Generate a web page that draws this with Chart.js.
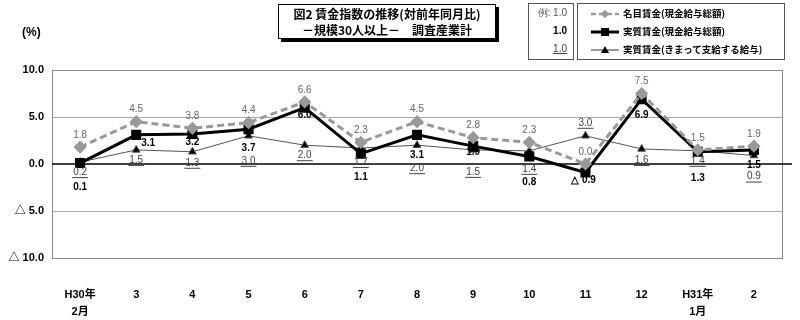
<!DOCTYPE html>
<html>
<head>
<meta charset="utf-8">
<script src="https://cdn.jsdelivr.net/npm/chart.js@4"></script>
<style>
  body { margin:0; background:#fff; font-family:'Liberation Sans','Noto Sans CJK JP',sans-serif; }
  #wrap { position:relative; width:800px; height:320px; }
  canvas { position:absolute; left:0; top:0; }
  .unit { position:absolute; left:22px; top:25px; font-size:12px; font-weight:bold; }
  .title { position:absolute; left:278px; top:4px; width:218px; height:35px; border:1px solid #000;
    box-shadow:3px 3px 0 #000; background:#fff; font-family:'Noto Sans CJK JP',sans-serif;
    font-weight:bold; font-size:12px; line-height:16px; text-align:center; padding-top:1px; box-sizing:border-box; }
  .lgbox { position:absolute; top:3px; height:55px; border:1px solid #555; background:#fff;
    font-family:'Noto Sans CJK JP',sans-serif; font-size:9.5px; font-weight:bold; }
  .row { height:18px; line-height:18px; white-space:nowrap; }
  .ex { text-align:right; padding-right:6px; font-weight:normal; font-size:10px;
    font-family:'Liberation Sans Narrow','Liberation Sans',sans-serif; }
  .row svg { vertical-align:middle; margin:0 4px 0 13px; }
</style>
</head>
<body>
<div id="wrap">
  <canvas id="c" width="800" height="320"></canvas>
  <div class="unit">(%)</div>
  <div class="title">図2 賃金指数の推移(対前年同月比)<br>－規模30人以上－　調査産業計</div>
  <div class="lgbox" style="left:528px;width:44px;">
    <div class="row ex" style="color:#555">例: 1.0</div>
    <div class="row ex" style="font-weight:bold">1.0</div>
    <div class="row ex" style="color:#444"><u>1.0</u></div>
  </div>
  <div class="lgbox" style="left:577px;width:206px;">
    <div class="row"><svg width="28" height="10"><line x1="0" y1="5" x2="28" y2="5" stroke="#999" stroke-width="2.5" stroke-dasharray="5,3"/><rect x="11" y="2" width="6" height="6" fill="#999" transform="rotate(45 14 5)"/></svg>名目賃金(現金給与総額)</div>
    <div class="row"><svg width="28" height="10"><line x1="0" y1="5" x2="28" y2="5" stroke="#000" stroke-width="3"/><rect x="10" y="1" width="8" height="8" fill="#000"/></svg>実質賃金(現金給与総額)</div>
    <div class="row"><svg width="28" height="10"><line x1="0" y1="5" x2="28" y2="5" stroke="#333" stroke-width="1"/><polygon points="14,1 18,8 10,8" fill="#000"/></svg>実質賃金(きまって支給する給与)</div>
  </div>
</div>
<script>
// 月ラベル
const MONTHS = [['H30年','2月'],'3','4','5','6','7','8','9','10','11','12',['H31年','1月'],'2'];

// 名目賃金(現金給与総額)
const NOMINAL = [1.8, 4.5, 3.8, 4.4, 6.6, 2.3, 4.5, 2.8, 2.3, 0.0, 7.5, 1.5, 1.9];
// 実質賃金(現金給与総額)
const REAL = [0.1, 3.1, 3.2, 3.7, 6.0, 1.1, 3.1, 1.9, 0.8, -0.9, 6.9, 1.3, 1.5];
// 実質賃金(きまって支給する給与)
const REAL_SCHED = [0.2, 1.5, 1.3, 3.0, 2.0, 1.7, 2.0, 1.5, 1.4, 3.0, 1.6, 1.4, 0.9];

const Y_TICKS = [10, 5, 0, -5, -10];

function fmt(v) {
  return v < 0 ? '△ ' + Math.abs(v).toFixed(1) : v.toFixed(1);
}

// ラベル位置の微調整 [dx, dy]
const LABEL_OFFSETS = [
  NOMINAL.map(() => [0, -12]),
  [[0,24],[12,8],[0,8],[0,19],[0,8],[0,24],[0,20],[0,6],[0,26],[-2,8],[0,16],[0,26],[0,15]],
  [[0,10],[0,10],[0,11],[0,25],[0,10],[0,14],[0,23],[0,22],[0,18],[0,-13],[0,11],[0,10],[0,21]]
];

const labelPlugin = {
  id: 'valueLabels',
  afterDatasetsDraw(chart) {
    const ctx = chart.ctx;
    ctx.save();
    ctx.textAlign = 'center';
    ctx.textBaseline = 'middle';
    chart.data.datasets.forEach((ds, di) => {
      const meta = chart.getDatasetMeta(di);
      meta.data.forEach((pt, i) => {
        const [dx, dy] = LABEL_OFFSETS[di][i];
        const x = pt.x + dx, y = pt.y + dy;
        const txt = fmt(ds.data[i]);
        if (di === 0) {
          ctx.font = '10px "Liberation Sans Narrow", "Liberation Sans", sans-serif';
          ctx.fillStyle = '#666';
        } else if (di === 1) {
          ctx.font = 'bold 10px "Liberation Sans Narrow", "Liberation Sans", sans-serif';
          ctx.fillStyle = '#000';
        } else {
          ctx.font = '10px "Liberation Sans Narrow", "Liberation Sans", sans-serif';
          ctx.fillStyle = '#444';
        }
        ctx.fillText(txt, x, y);
        if (di === 2) {
          const w = ctx.measureText(txt).width;
          ctx.strokeStyle = '#444';
          ctx.lineWidth = 1;
          ctx.beginPath();
          ctx.moveTo(x - w / 2 - 1, y + 5.5);
          ctx.lineTo(x + w / 2 + 1, y + 5.5);
          ctx.stroke();
        }
      });
    });
    ctx.restore();
  }
};

const framePlugin = {
  id: 'frame',
  beforeDatasetsDraw(chart) {
    const a = chart.chartArea, ctx = chart.ctx;
    ctx.save();
    ctx.strokeStyle = '#888';
    ctx.lineWidth = 1;
    ctx.strokeRect(a.left + 0.5, a.top + 0.5, a.right - a.left, a.bottom - a.top);
    // ゼロ線
    const y0 = chart.scales.y.getPixelForValue(0);
    ctx.strokeStyle = '#000';
    ctx.lineWidth = 1.5;
    ctx.beginPath();
    ctx.moveTo(a.left, y0);
    ctx.lineTo(a.right + 10, y0);
    ctx.stroke();
    ctx.restore();
  }
};

new Chart(document.getElementById('c'), {
  type: 'line',
  data: {
    labels: MONTHS,
    datasets: [
      {
        label: '名目賃金(現金給与総額)',
        data: NOMINAL,
        borderColor: '#999',
        backgroundColor: '#999',
        borderWidth: 3,
        borderDash: [7, 4],
        pointStyle: 'rectRot',
        pointRadius: 4.5,
        tension: 0
      },
      {
        label: '実質賃金(現金給与総額)',
        data: REAL,
        borderColor: '#000',
        backgroundColor: '#000',
        borderWidth: 3,
        pointStyle: 'rect',
        pointRadius: 5,
        tension: 0
      },
      {
        label: '実質賃金(きまって支給する給与)',
        data: REAL_SCHED,
        borderColor: '#555',
        backgroundColor: '#000',
        borderWidth: 1,
        pointStyle: 'triangle',
        pointRadius: 4.5,
        tension: 0
      }
    ]
  },
  options: {
    responsive: false,
    animation: false,
    layout: { padding: { top: 70, right: 18, left: 0, bottom: 0 } },
    plugins: {
      legend: { display: false },
      tooltip: { enabled: false }
    },
    scales: {
      x: {
        offset: true,
        grid: { display: false },
        border: { display: false },
        afterFit(s) { s.height = 62; },
        ticks: {
          color: '#000',
          padding: 21,
          maxRotation: 0,
          autoSkip: false,
          font: { size: 11, weight: 'bold', lineHeight: 1.5, family: '"Liberation Sans", "Noto Sans CJK JP", sans-serif' }
        }
      },
      y: {
        min: -10,
        max: 10,
        afterFit(s) { s.width = 52; },
        afterBuildTicks(s) { s.ticks = Y_TICKS.map(v => ({ value: v })); },
        border: { display: false },
        grid: {
          drawTicks: false,
          color: ctx => (ctx.tick.value === 5 || ctx.tick.value === -5) ? '#aaa' : 'rgba(0,0,0,0)'
        },
        ticks: {
          color: '#000',
          padding: 8,
          font: { size: 11, weight: 'bold', family: '"Liberation Sans", "Noto Sans CJK JP", sans-serif' },
          callback: v => v < 0 ? '△ ' + Math.abs(v).toFixed(1) : v.toFixed(1)
        }
      }
    }
  },
  plugins: [framePlugin, labelPlugin]
});
</script>
</body>
</html>
